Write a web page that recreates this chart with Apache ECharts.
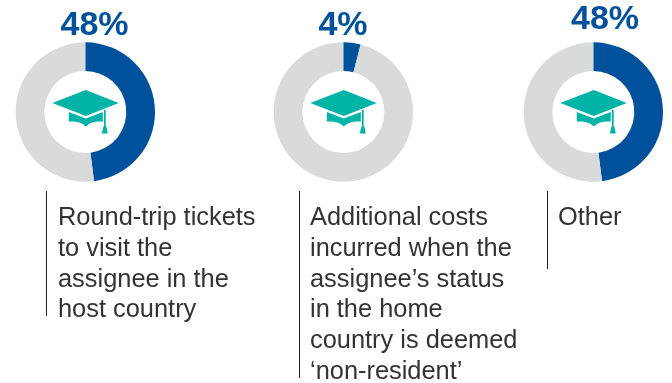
<!DOCTYPE html>
<html><head><meta charset="utf-8">
<style>html,body{margin:0;padding:0;background:#fff}#c{width:672px;height:383px}</style>
<script src="https://cdn.jsdelivr.net/npm/echarts@6/dist/echarts.min.js"></script>
</head><body><div id="c"></div>
<script>
const shares = [48, 4, 48];
const remainders = [52, 96, 52];
const shareLabels = ['48%', '4%', '48%'];
const descriptions = [
  'Round-trip tickets\nto visit the\nassignee in the\nhost country',
  'Additional costs\nincurred when the\nassignee’s status\nin the home\ncountry is deemed\n‘non-resident’',
  'Other'
];
const centersX = [85.3, 343.3, 593.3];
const titleX = [94.5, 343, 605];
const titleY = [25.5, 25.5, 20];
const ruleX = [46.5, 299.5, 547.5];
const ruleEnd = [316, 378, 269];
const textX = [58, 310, 558];
const BLUE = '#00519B', GREY = '#D9DBDA', TEAL = '#00B3A7';
const FONT = '"Liberation Sans", Arial, sans-serif';

function hat(cx) {
  return {
    type: 'group', x: cx, y: 112, silent: true,
    children: [
      { type: 'polygon', shape: { points: [[-33,-9],[0.5,-22],[33.5,-9],[0.5,4]] }, style: { fill: TEAL } },
      { type: 'polygon', shape: { points: [[-16.5,0],[0.5,6.5],[17.5,0],[17.5,9.5],[12,9.6],[7,10.5],[3.5,12],[0.5,14.5],[-2.5,12],[-6,10.5],[-11,9.6],[-16.5,9.5]] }, style: { fill: TEAL } },
      { type: 'polygon', shape: { points: [[18.6,-2.5],[20.4,-2],[20.4,14],[21.2,15],[22.5,21.5],[16.5,21.5],[18,15],[18.6,14]] }, style: { fill: TEAL } }
    ]
  };
}

const series = shares.map((s, i) => ({
  type: 'pie', silent: true, animation: false,
  center: [centersX[i], 112], radius: [41, 69.7], startAngle: 90, clockwise: true,
  label: { show: false }, labelLine: { show: false },
  data: [
    { value: s, name: 'share', itemStyle: { color: BLUE } },
    { value: remainders[i], name: 'rest', itemStyle: { color: GREY } }
  ]
}));

const graphic = [];
shares.forEach((s, i) => {
  graphic.push(hat(centersX[i]));
  graphic.push({ type: 'text', x: titleX[i], y: titleY[i], silent: true,
    style: { text: shareLabels[i], font: 'bold 34px ' + FONT, fill: BLUE, align: 'center', verticalAlign: 'middle' } });
  graphic.push({ type: 'line', silent: true,
    shape: { x1: ruleX[i], y1: 191, x2: ruleX[i], y2: ruleEnd[i] },
    style: { stroke: '#222', lineWidth: 1 } });
  graphic.push({ type: 'text', x: textX[i], y: 202.5, silent: true,
    style: { text: descriptions[i], font: '25.4px ' + FONT, lineHeight: 30.8, fill: '#333', align: 'left', verticalAlign: 'top' } });
});

echarts.init(document.getElementById('c'), null, { renderer: 'canvas' }).setOption({
  animation: false, backgroundColor: '#fff', series, graphic
});
</script></body></html>
